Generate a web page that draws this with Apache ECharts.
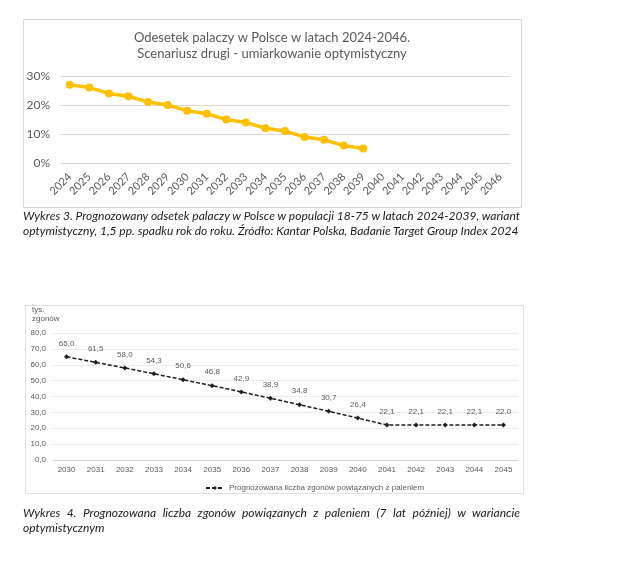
<!DOCTYPE html>
<html><head><meta charset="utf-8">
<script src="https://cdn.jsdelivr.net/npm/echarts@6/dist/echarts.min.js"></script>
<style>
body{margin:0;background:#fff;}
#c{position:absolute;left:0;top:0;width:627px;height:573px;}
.cap{position:absolute;left:23px;width:497px;font-family:'Lato';font-style:italic;font-size:12px;line-height:15px;color:#1a1a1a;white-space:nowrap;}
.j{text-align:justify;text-align-last:justify;}
</style></head><body>
<div id="c"></div>
<div class="cap j" style="top:208px">Wykres 3. Prognozowany odsetek palaczy w Polsce w populacji 18-75 w latach 2024-2039, wariant</div>
<div class="cap" style="top:223px">optymistyczny, 1,5 pp. spadku rok do roku. Źródło: Kantar Polska, Badanie Target Group Index 2024</div>
<div class="cap j" style="top:505px">Wykres 4. Prognozowana liczba zgonów powiązanych z paleniem (7 lat później) w wariancie</div>
<div class="cap" style="top:520px">optymistycznym</div>
<script>
const smokerYears = ['2024','2025','2026','2027','2028','2029','2030','2031','2032','2033','2034','2035','2036','2037','2038','2039','2040','2041','2042','2043','2044','2045','2046'];
const smokerPct = [27,26,24,23,21,20,18,17,15,14,12,11,9,8,6,5];
const smokerTicks = [0,10,20,30];
const chart1Title = ['Odesetek palaczy w Polsce w latach 2024-2046.','Scenariusz drugi - umiarkowanie optymistyczny'];

const deathYears = ['2030','2031','2032','2033','2034','2035','2036','2037','2038','2039','2040','2041','2042','2043','2044','2045'];
const deaths = [65.0,61.5,58.0,54.3,50.6,46.8,42.9,38.9,34.8,30.7,26.4,22.1,22.1,22.1,22.1,22.0];
const deathsName = 'Prognozowana liczba zgonów powiązanych z paleniem';
const deathsUnit = ['tys.','zgonów'];

const fmtComma = v => Number(v).toFixed(1).replace('.', ',');
const chart = echarts.init(document.getElementById('c'), null, {renderer:'canvas'});
chart.setOption({
  animation:false,
  graphic:[
    {type:'rect', shape:{x:23.5,y:19.5,width:498,height:188}, style:{fill:'#fff',stroke:'#d9d9d9',lineWidth:1}, z:-10},
    {type:'rect', shape:{x:25.5,y:305.5,width:498,height:188}, style:{fill:'#fff',stroke:'#e0e0e0',lineWidth:1}, z:-10},
    {type:'text', x:272, y:30, style:{text:chart1Title.join('\n'), textAlign:'center', fill:'#595959', font:'13px Lato', lineHeight:16}},
    {type:'text', x:32, y:305, style:{text:deathsUnit.join('\n'), textAlign:'left', fill:'#595959', font:'8px "Liberation Sans"', lineHeight:9}}
  ],
  grid:[
    {left:60, right:117, top:76, bottom:410, containLabel:false},
    {left:52, right:109, top:333, bottom:113, containLabel:false}
  ],
  xAxis:[
    {type:'category', gridIndex:0, data:smokerYears, boundaryGap:true,
     axisLine:{show:true, lineStyle:{color:'#d9d9d9'}}, axisTick:{show:false},
     axisLabel:{rotate:45, color:'#595959', fontSize:11, fontFamily:'Lato', margin:12, interval:0}},
    {type:'category', gridIndex:1, data:deathYears, boundaryGap:true,
     axisLine:{show:true, lineStyle:{color:'#d9d9d9'}}, axisTick:{show:false},
     axisLabel:{color:'#595959', fontSize:8, fontFamily:'Liberation Sans', margin:6, interval:0}}
  ],
  yAxis:[
    {type:'value', gridIndex:0, min:0, max:30, interval:10,
     axisLine:{show:false}, axisTick:{show:false},
     splitLine:{lineStyle:{color:'#d9d9d9'}},
     axisLabel:{formatter:'{value}%', color:'#595959', fontSize:12, fontFamily:'Lato', margin:10}},
    {type:'value', gridIndex:1, min:0, max:80, interval:10,
     axisLine:{show:false}, axisTick:{show:false},
     splitLine:{lineStyle:{color:'#ececec'}},
     axisLabel:{formatter:fmtComma, color:'#595959', fontSize:8, fontFamily:'Liberation Sans', margin:6}}
  ],
  legend:{show:true, data:[deathsName], left:200, top:479, itemWidth:18, itemHeight:5, itemGap:4,
    textStyle:{fontSize:8, color:'#595959', fontFamily:'Liberation Sans'}},
  series:[
    {type:'line', xAxisIndex:0, yAxisIndex:0, data:smokerPct, name:'Odsetek palaczy',
     lineStyle:{color:'#FFC000', width:3.5}, itemStyle:{color:'#FFC000'},
     symbol:'circle', symbolSize:8, showSymbol:true},
    {type:'line', xAxisIndex:1, yAxisIndex:1, data:deaths, name:deathsName,
     lineStyle:{color:'#1f1f1f', width:1.5, type:[4,2]}, itemStyle:{color:'#1f1f1f'},
     symbol:'diamond', symbolSize:5,
     label:{show:true, position:'top', distance:7, formatter:p=>fmtComma(p.value), fontSize:8, color:'#595959', fontFamily:'Liberation Sans'}}
  ]
});
</script>
</body></html>
